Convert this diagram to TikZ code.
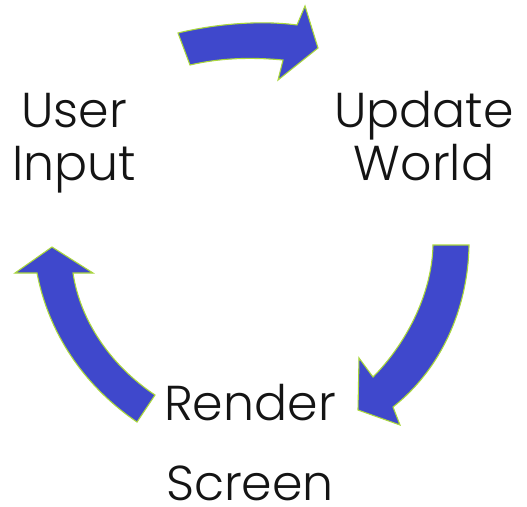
\documentclass[tikz,border=0pt]{standalone}
\usepackage{fontspec}
\setmainfont{Poppins}[UprightFont=* Light]
\definecolor{loopblue}{RGB}{63,72,204}
\definecolor{rimgreen}{RGB}{170,215,60}
\definecolor{inkdark}{RGB}{20,20,20}
\begin{document}
\begin{tikzpicture}[x=1pt,y=-1pt,
  bentarrow/.style={fill=loopblue,draw=rimgreen,line width=1.1pt,line join=miter},
  steplabel/.style={font=\fontsize{49}{53}\selectfont,text=inkdark,align=center,inner sep=0pt,anchor=base}]
\useasboundingbox (0,0) rectangle (527,506);
% three curved block arrows forming the loop
\draw[bentarrow] (178,33) .. controls (215,24) and (260,20) .. (297,25)
  -- (305,6) -- (318,48) -- (278,80) -- (283,60)
  .. controls (250,57) and (220,58) .. (190,65) -- cycle;
\draw[bentarrow] (433,245) -- (469,245)
  .. controls (468,310) and (440,370) .. (393,407)
  -- (400,425) -- (358,410) -- (359,358) -- (373,377)
  .. controls (405,345) and (432,295) .. (433,245) -- cycle;
\draw[bentarrow] (52,247) -- (93,273) -- (73,273)
  .. controls (80,320) and (110,365) .. (155,395)
  -- (137,422) .. controls (90,390) and (50,340) .. (37,273)
  -- (15,273) -- cycle;
% stage labels (anchored at the baseline of the second line)
\node[steplabel] (input) at (74,180) {User\\Input};
\node[steplabel] (update) at (424,180) {Update\\World};
\node[steplabel] (render) at (250,500) {Render\\[27pt]Screen};
\end{tikzpicture}
\end{document}
